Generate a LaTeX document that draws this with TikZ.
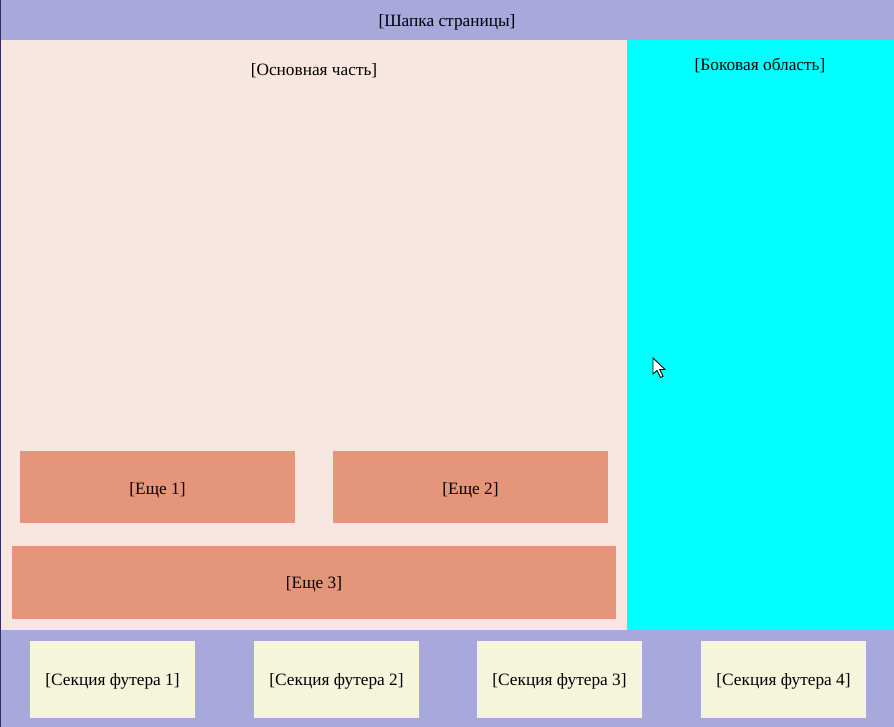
\documentclass[tikz,border=0pt]{standalone}
\usepackage{fontspec}
\setmainfont{Liberation Serif}
\definecolor{lavender}{HTML}{A8A8DC}
\definecolor{mainbg}{HTML}{F8E6E0}
\definecolor{sidebg}{HTML}{00FFFF}
\definecolor{morebox}{HTML}{E5967A}
\definecolor{footbox}{HTML}{F5F5DC}
\definecolor{edge}{HTML}{2C3060}
\begin{document}
\begin{tikzpicture}[x=1pt,y=-1pt,
  label/.style={font=\fontsize{17.3}{20}\selectfont,text=black,inner sep=0pt}]
\useasboundingbox (0,0) rectangle (894,727);
% page regions
\fill[lavender] (0,0) rectangle (894,40);
\fill[mainbg] (0,40) rectangle (627,630);
\fill[sidebg] (627,40) rectangle (894,630);
\fill[lavender] (0,630) rectangle (894,727);
\fill[edge] (0,0) rectangle (1,727);
% region captions
\node[label] (header) at (447,22) {[Шапка страницы]};
\node[label] (main) at (314,71) {[Основная часть]};
\node[label] (side) at (760,65) {[Боковая область]};
% extra blocks in the main part
\fill[morebox] (20,451) rectangle (295,523);
\fill[morebox] (333,451) rectangle (608,523);
\fill[morebox] (12,546) rectangle (616,619);
\node[label] (more1) at (157.5,490.5) {[Еще 1]};
\node[label] (more2) at (470.5,490.5) {[Еще 2]};
\node[label] (more3) at (314,584.5) {[Еще 3]};
% footer sections
\fill[footbox] (30,641) rectangle (195,718);
\fill[footbox] (254,641) rectangle (419,718);
\fill[footbox] (477,641) rectangle (642,718);
\fill[footbox] (701,641) rectangle (866,718);
\node[label] (f1) at (112.5,681.5) {[Секция футера 1]};
\node[label] (f2) at (336.5,681.5) {[Секция футера 2]};
\node[label] (f3) at (559.5,681.5) {[Секция футера 3]};
\node[label] (f4) at (783.5,681.5) {[Секция футера 4]};
% mouse pointer
\filldraw[fill=white,draw=black,line width=0.9pt,line join=miter]
  (653,358) -- (653,374) -- (657,370.5) -- (660.5,377.5) -- (663,376.3)
  -- (659.7,369.5) -- (665,369.5) -- cycle;
\end{tikzpicture}
\end{document}
